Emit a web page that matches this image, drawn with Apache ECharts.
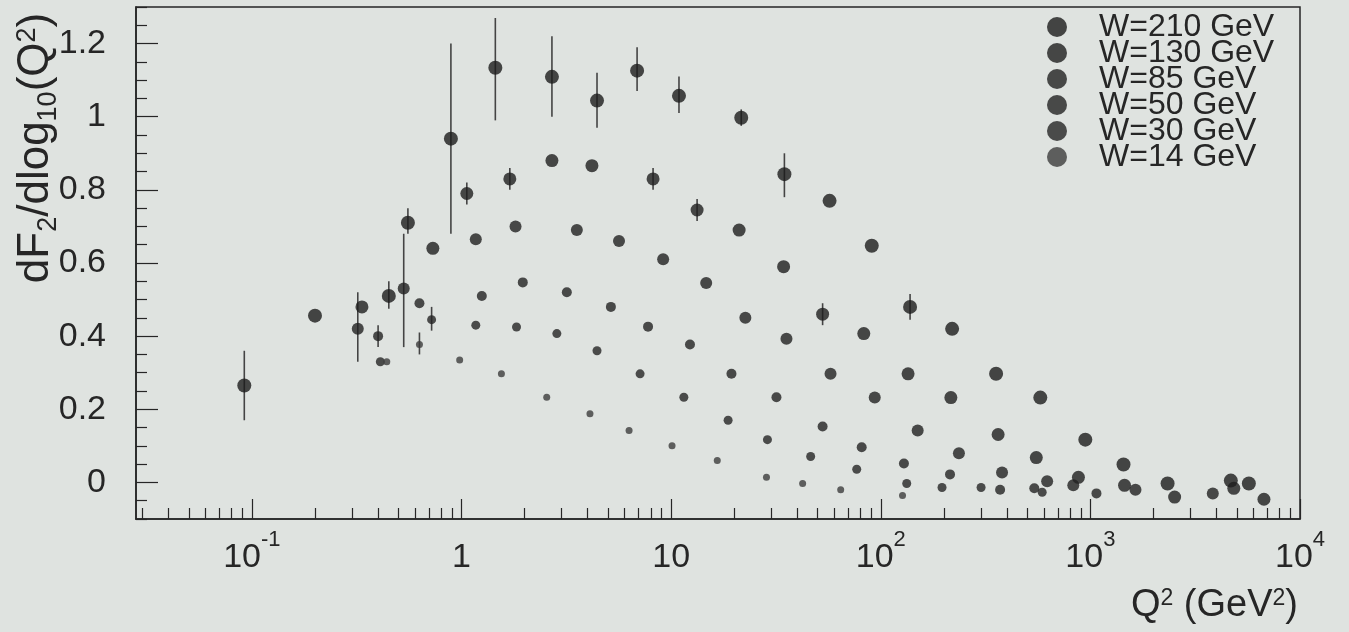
<!DOCTYPE html>
<html>
<head>
<meta charset="utf-8">
<title>dF2/dlog10(Q2) vs Q2</title>
<script src="https://cdn.jsdelivr.net/npm/echarts@6/dist/echarts.min.js"></script>
<style>
  html, body { margin: 0; padding: 0; background: #dfe3e0; }
  #chart { width: 1349px; height: 632px; }
</style>
</head>
<body>
<div id="chart"></div>
<script>
// slope dF2/dlog10(Q2) at fixed W
var qW210 = [0.092, 0.20, 0.45, 0.555, 0.89, 1.45, 2.70, 4.43, 6.88, 10.9, 21.6, 34.7, 57, 90.6, 138, 219, 355, 577, 946, 1439, 2335, 4677, 5702];
var fW210 = [0.265, 0.456, 0.51, 0.71, 0.94, 1.134, 1.109, 1.044, 1.126, 1.057, 0.997, 0.843, 0.77, 0.647, 0.48, 0.42, 0.297, 0.232, 0.117, 0.049, -0.003, 0.005, -0.003];

var qW130 = [0.335, 0.73, 1.06, 1.70, 2.70, 4.19, 8.20, 13.3, 21.1, 34.4, 52.8, 83.0, 135, 216, 363, 552, 877, 1455, 2523, 4833, 6730];
var fW130 = [0.48, 0.64, 0.79, 0.83, 0.88, 0.866, 0.83, 0.745, 0.69, 0.59, 0.46, 0.407, 0.297, 0.232, 0.131, 0.068, 0.014, -0.008, -0.04, -0.016, -0.046];

var qW85 = [0.32, 0.53, 1.17, 1.81, 3.55, 5.64, 9.16, 14.7, 22.6, 35.5, 57.6, 93.6, 150, 236, 379, 622, 829, 1641, 3837];
var fW85 = [0.42, 0.53, 0.665, 0.70, 0.69, 0.66, 0.61, 0.545, 0.45, 0.393, 0.297, 0.232, 0.142, 0.08, 0.027, 0.003, -0.008, -0.02, -0.03];

var qW50 = [0.40, 0.63, 1.25, 1.96, 3.18, 5.16, 7.76, 12.3, 19.4, 31.8, 52.8, 81.1, 129, 214, 371, 540, 1069];
var fW50 = [0.40, 0.49, 0.51, 0.547, 0.52, 0.48, 0.426, 0.377, 0.297, 0.233, 0.153, 0.096, 0.052, 0.022, -0.02, -0.016, -0.03];

var qW30 = [0.41, 0.72, 1.17, 1.83, 2.85, 4.43, 7.11, 11.5, 18.7, 28.8, 46.3, 76.8, 133, 196, 301, 589];
var fW30 = [0.33, 0.445, 0.43, 0.425, 0.407, 0.36, 0.297, 0.233, 0.17, 0.117, 0.071, 0.036, -0.003, -0.014, -0.014, -0.027];

var qW14 = [0.44, 0.63, 0.98, 1.55, 2.55, 4.10, 6.30, 10.1, 16.6, 28.5, 42.4, 64.4, 127];
var fW14 = [0.33, 0.377, 0.335, 0.297, 0.233, 0.188, 0.142, 0.10, 0.06, 0.014, -0.003, -0.02, -0.036];

// visible error bars
var errQ  = [0.092, 0.32, 0.40, 0.45, 0.53, 0.555, 0.63, 0.72, 0.89, 1.06, 1.45, 1.70, 2.70, 4.43, 6.88, 8.20, 10.9, 13.3, 21.6, 34.7, 52.8, 138];
var errLo = [0.17, 0.33, 0.37, 0.475, 0.37, 0.68, 0.35, 0.415, 0.68, 0.76, 0.99, 0.80, 1.00, 0.97, 1.07, 0.80, 1.01, 0.715, 0.975, 0.78, 0.43, 0.445];
var errHi = [0.36, 0.52, 0.43, 0.55, 0.68, 0.75, 0.41, 0.48, 1.20, 0.82, 1.27, 0.86, 1.22, 1.12, 1.19, 0.86, 1.11, 0.775, 1.02, 0.90, 0.49, 0.515];

var wNames = ['W=210 GeV', 'W=130 GeV', 'W=85 GeV', 'W=50 GeV', 'W=30 GeV', 'W=14 GeV'];
var yMajor = [0, 0.2, 0.4, 0.6, 0.8, 1, 1.2];

var ink = '#262626';
var font = '"Liberation Sans", Arial, sans-serif';

var yMinor = [];
for (var i = -2; i <= 26; i++) {
  var v = +(i * 0.05).toFixed(2);
  if (Math.abs(v / 0.2 - Math.round(v / 0.2)) > 1e-6) yMinor.push(v);
}
var xMinor = [];
for (var e = -2; e <= 3; e++) {
  for (var k = 2; k <= 9; k++) {
    var t = +(k * Math.pow(10, e)).toPrecision(3);
    if (t >= 0.028 && t <= 10000) xMinor.push(t);
  }
}

function pairs(q, f) {
  return q.map(function (x, i) { return [x, f[i]]; });
}

function xLabel(v) {
  var p = Math.round(Math.log10(v));
  if (p === 0) return '{b|1}';
  if (p === 1) return '{b|10}';
  return '{b|10}{s|' + p + '}';
}

var markerSize = [14, 13, 12, 10, 9, 7];
var markerColor = ['#1c1c1c', '#1e1e1e', '#202020', '#222222', '#242424', '#3c3c3c'];
var seriesData = [pairs(qW210, fW210), pairs(qW130, fW130), pairs(qW85, fW85),
                  pairs(qW50, fW50), pairs(qW30, fW30), pairs(qW14, fW14)];

var series = [{
  type: 'custom',
  z: 1,
  silent: true,
  encode: { x: 0, y: [1, 2] },
  data: errQ.map(function (q, i) { return [q, errLo[i], errHi[i]]; }),
  renderItem: function (params, api) {
    var a = api.coord([api.value(0), api.value(1)]);
    var b = api.coord([api.value(0), api.value(2)]);
    return {
      type: 'line',
      shape: { x1: a[0], y1: a[1], x2: b[0], y2: b[1] },
      style: { stroke: '#444', lineWidth: 1.6 }
    };
  }
}];
wNames.forEach(function (name, i) {
  series.push({
    name: name,
    type: 'scatter',
    z: 2,
    symbol: 'circle',
    symbolSize: markerSize[i],
    itemStyle: { color: markerColor[i] },
    data: seriesData[i]
  });
});

var chart = echarts.init(document.getElementById('chart'));
chart.setOption({
  animation: false,
  backgroundColor: '#dfe3e0',
  grid: {
    left: 136, right: 49, top: 7, bottom: 113,
    show: true, borderColor: ink, borderWidth: 1.5,
    backgroundColor: 'transparent',
    outerBoundsMode: 'none'
  },
  legend: {
    data: wNames,
    orient: 'vertical',
    left: 1047, top: 11,
    itemWidth: 74, itemHeight: 20, itemGap: -6,
    icon: 'circle',
    selectedMode: false,
    padding: 0,
    textStyle: { fontFamily: font, fontSize: 32, lineHeight: 22, color: ink }
  },
  xAxis: [{
    type: 'log', logBase: 10, min: 0.028, max: 10000,
    position: 'bottom',
    axisLine: { onZero: false, lineStyle: { color: ink, width: 1.6 } },
    axisTick: { inside: true, length: 20, lineStyle: { color: ink, width: 1.2 } },
    axisLabel: {
      showMinLabel: false, margin: 10, formatter: xLabel, color: ink,
      rich: {
        b: { fontFamily: font, fontSize: 34, color: ink, verticalAlign: 'bottom', padding: [12, 0, 0, 0] },
        s: { fontFamily: font, fontSize: 22, color: ink, verticalAlign: 'top' }
      }
    },
    splitLine: { show: false }
  }, {
    type: 'log', logBase: 10, min: 0.028, max: 10000,
    position: 'bottom',
    axisLine: { show: false, onZero: false },
    axisTick: { inside: true, length: 11, customValues: xMinor, lineStyle: { color: ink, width: 1.2 } },
    axisLabel: { show: false },
    splitLine: { show: false }
  }],
  yAxis: [{
    type: 'value', min: -0.1, max: 1.3,
    position: 'left',
    axisLine: { show: true, onZero: false, lineStyle: { color: ink, width: 1.6 } },
    axisTick: { inside: true, length: 22, customValues: yMajor, lineStyle: { color: ink, width: 1.2 } },
    axisLabel: {
      customValues: yMajor, margin: 30,
      fontFamily: font, fontSize: 34, color: ink,
      formatter: function (v) { return String(+(+v).toFixed(1)); }
    },
    splitLine: { show: false }
  }, {
    type: 'value', min: -0.1, max: 1.3,
    position: 'left',
    axisLine: { show: false, onZero: false },
    axisTick: { inside: true, length: 11, customValues: yMinor, lineStyle: { color: ink, width: 1.2 } },
    axisLabel: { show: false },
    splitLine: { show: false }
  }],
  graphic: [{
    type: 'text',
    x: 36, y: 148,
    rotation: Math.PI / 2,
    style: {
      text: '{m|dF}{d|2}{m|/dlog}{d|10}{m|(Q}{u|2}{m|)}',
      align: 'center', verticalAlign: 'middle',
      rich: {
        m: { fontFamily: font, fontSize: 44, fill: ink, verticalAlign: 'top', lineHeight: 44 },
        d: { fontFamily: font, fontSize: 27, fill: ink, verticalAlign: 'top', lineHeight: 27, padding: [21, 0, 0, 0] },
        u: { fontFamily: font, fontSize: 27, fill: ink, verticalAlign: 'top', lineHeight: 27 }
      }
    }
  }, {
    type: 'text',
    x: 1298, y: 606,
    style: {
      text: '{m|Q}{u|2}{m| (GeV}{u|2}{m|)}',
      align: 'right', verticalAlign: 'middle',
      rich: {
        m: { fontFamily: font, fontSize: 38, fill: ink, verticalAlign: 'top', lineHeight: 38 },
        u: { fontFamily: font, fontSize: 23, fill: ink, verticalAlign: 'top', lineHeight: 23 }
      }
    }
  }],
  series: series
});
</script>
</body>
</html>
